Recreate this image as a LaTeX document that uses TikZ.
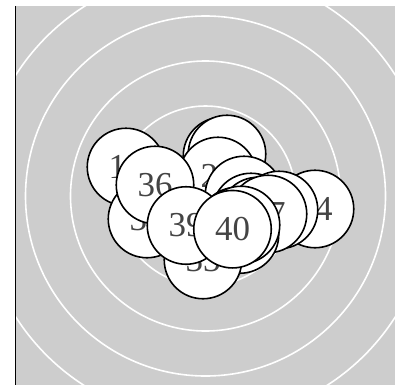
\documentclass[tikz,border=0pt]{standalone}
\usepackage{fontspec}
\setmainfont{Liberation Serif}
\definecolor{bg}{RGB}{205,205,205}
\definecolor{lbl}{RGB}{68,68,68}
\tikzset{
  ball/.style={circle, draw=black, fill=white, line width=1.6pt, minimum size=77.5pt, inner sep=0pt,
    text=lbl, font=\fontsize{35}{35}\selectfont},
  ring/.style={draw=white, line width=1.6pt}
}
\begin{document}
\begin{tikzpicture}[x=1pt,y=-1pt]
\useasboundingbox (0,0) rectangle (395,385);
\fill[bg] (15.5,6) rectangle (395,385);
\begin{scope}
\clip (15.5,6) rectangle (395,385);
\foreach \r in {45,90,135,180,225,270} \draw[ring] (205.5,196) circle[radius=\r];
\end{scope}
\draw[black, line width=1pt] (15.5,6) -- (15.5,385);
\node[ball] (n22) at (222,156) {};
\node[ball] (n23) at (227,154) {};
\node[ball] (n12) at (126,167) {12};
\node[ball] (n35) at (147,219) {35};
\node[ball] (n26) at (218,176) {26};
\node[ball] (n36) at (155,185) {36};
\node[ball] (n24) at (315,209) {24};
\node[ball] (n28) at (244,195) {};
\node[ball] (n29) at (251,212) {};
\node[ball] (n31) at (258,216) {};
\node[ball] (n30) at (279,210) {};
\node[ball] (n17) at (268,214) {17};
\node[ball] (n34) at (240,234.5) {};
\node[ball] (n33) at (203,260) {33};
\node[ball] (n37) at (237,226) {};
\node[ball] (n38) at (241,225) {};
\node[ball] (n39) at (186,225.5) {39};
\node[ball] (n40) at (232.5,229.2) {40};
\end{tikzpicture}
\end{document}
